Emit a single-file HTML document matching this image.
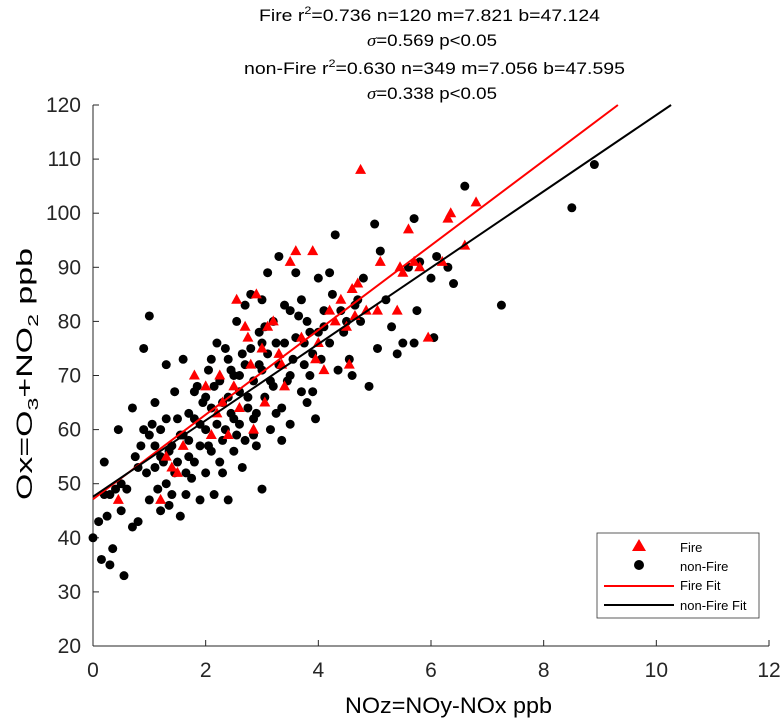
<!DOCTYPE html>
<html><head><meta charset="utf-8"><style>
body{margin:0;background:#fff;font-family:"Liberation Sans",Arial,sans-serif;}
svg text{font-family:"Liberation Sans",Arial,sans-serif;}
</style></head><body>
<svg id="chart" width="782" height="721" xmlns="http://www.w3.org/2000/svg">
<g font-size="17" fill="#000">
<text x="259" y="21" textLength="341" lengthAdjust="spacingAndGlyphs">Fire r<tspan font-size="11" dy="-7">2</tspan><tspan dy="7">=0.736 n=120  m=7.821  b=47.124</tspan></text>
<text x="367" y="46" textLength="130" lengthAdjust="spacingAndGlyphs"><tspan font-family="Liberation Serif" font-style="italic">σ</tspan>=0.569 p&lt;0.05</text>
<text x="244" y="74" textLength="381" lengthAdjust="spacingAndGlyphs">non-Fire r<tspan font-size="11" dy="-7">2</tspan><tspan dy="7">=0.630 n=349 m=7.056  b=47.595</tspan></text>
<text x="367" y="99" textLength="130" lengthAdjust="spacingAndGlyphs"><tspan font-family="Liberation Serif" font-style="italic">σ</tspan>=0.338 p&lt;0.05</text>
</g>
<g id="axes"></g>
<g id="marks"></g>
<text x="345" y="713" font-size="22" textLength="207" lengthAdjust="spacingAndGlyphs">NOz=NOy-NOx  ppb</text>
<text transform="translate(32,500) rotate(-90)" font-size="22" textLength="252" lengthAdjust="spacingAndGlyphs">Ox=O<tspan font-size="15" dy="6">3</tspan><tspan dy="-6">+NO</tspan><tspan font-size="15" dy="6">2</tspan><tspan dy="-6"> ppb</tspan></text>
<g>
<rect x="597" y="533" width="162" height="85" fill="#fff" stroke="#333" stroke-width="0.8"/>
<polygon points="639,539 646,551 632,551" fill="#f00"/>
<text x="680" y="552" font-size="13">Fire</text>
<circle cx="639" cy="565" r="5" fill="#000"/>
<text x="680" y="571" font-size="13">non-Fire</text>
<line x1="604" y1="586" x2="674" y2="586" stroke="#f00" stroke-width="2"/>
<text x="680" y="590" font-size="13">Fire Fit</text>
<line x1="604" y1="605" x2="674" y2="605" stroke="#000" stroke-width="2"/>
<text x="680" y="610" font-size="13">non-Fire Fit</text>
</g>
</svg>
<script>
const xTicks=[0,2,4,6,8,10,12];
const yTicks=[20,30,40,50,60,70,80,90,100,110,120];
const fireFit=[7.821,47.124];
const nonFireFit=[7.056,47.595];
const nonFireX=[0,0.1,0.2,0.15,0.2,0.3,0.3,0.25,0.35,0.5,0.5,0.55,0.45,0.4,0.6,0.7,0.7,0.75,0.8,0.8,0.9,0.9,0.95,1.0,1.0,1.0,1.05,1.1,1.1,1.15,1.2,1.2,1.25,1.3,1.3,1.3,1.35,1.4,1.4,1.45,1.5,1.5,1.55,1.6,1.6,1.65,1.7,1.7,1.75,1.8,1.8,1.85,1.9,1.9,1.95,2.0,2.0,2.05,2.1,2.1,2.15,2.2,2.2,2.25,2.3,2.3,2.35,2.4,2.4,2.45,2.5,2.5,2.55,2.6,2.6,2.65,2.7,2.7,2.75,2.8,2.8,2.85,2.9,2.9,2.95,3.0,3.0,3.05,3.1,3.1,3.15,3.2,3.2,3.25,3.3,3.3,3.35,3.4,3.4,3.5,3.5,3.6,3.6,3.7,3.7,3.75,3.8,3.8,3.85,3.9,3.9,3.95,4.0,4.0,4.05,4.1,4.2,4.2,4.3,4.35,4.4,4.5,4.55,4.6,4.7,4.8,4.9,5.0,5.05,5.1,5.2,5.3,5.4,5.5,5.6,5.7,5.7,5.75,5.8,6.0,6.05,6.1,6.3,6.4,6.6,7.25,8.5,8.9,1.1,1.2,1.45,1.55,1.7,1.9,2.0,2.1,2.25,2.35,2.45,2.55,2.65,2.75,2.85,2.95,3.05,3.15,3.25,3.45,3.55,3.65,3.75,3.85,4.1,4.25,4.45,4.65,4.75,2.3,2.6,1.8,1.35,0.85,2.7,3.0,2.15,2.4,3.35,2.85,1.65,2.05,2.5,3.0,3.5];
const nonFireY=[40,43,54,36,48,48,35,44,38,50,45,33,60,49,49,42,64,55,53,43,75,60,52,81,47,59,61,53,57,49,45,60,54,72,50,62,46,57,48,67,54,62,44,59,73,52,58,63,51,62,54,68,57,47,65,60,52,71,56,64,48,76,61,69,52,58,75,66,47,63,70,56,80,67,61,53,72,58,64,85,75,69,57,63,78,71,49,66,89,74,60,80,68,63,92,72,58,83,76,70,61,89,77,84,67,72,80,65,78,74,67,62,88,78,73,82,89,76,96,71,82,80,73,70,84,88,68,98,75,93,84,79,74,76,90,99,76,82,91,88,77,92,90,87,105,83,101,109,65,55,52,59,55,61,66,73,54,60,71,59,74,66,62,72,79,69,76,69,73,81,76,70,79,85,78,83,80,65,70,67,56,57,83,84,68,73,64,59,48,57,62,76,82];
const fireX=[0.45,1.3,1.2,1.4,1.5,1.8,2.0,2.1,2.2,2.3,2.4,2.5,2.55,2.6,2.7,2.75,2.8,2.85,3.0,3.05,3.1,3.3,3.35,3.4,3.5,3.6,3.7,3.9,3.95,4.0,4.1,4.2,4.3,4.5,4.55,4.6,4.65,4.7,4.75,4.85,5.05,5.1,5.4,5.45,5.5,5.6,5.7,5.8,5.95,6.2,6.3,6.35,6.6,6.8,3.2,2.9,4.4,1.6,2.25];
const fireY=[47,55,47,53,52,70,68,59,63,65,59,68,84,64,79,77,72,60,75,65,79,74,72,68,91,93,77,93,73,76,71,82,80,79,72,86,81,87,108,82,82,91,82,90,89,97,91,90,77,91,99,100,94,102,80,85,84,57,70];
const NS='http://www.w3.org/2000/svg';
const L=93,R=769,T=105,B=646;
function sx(v){return L+(v-0)/(12-0)*(R-L);}
function sy(v){return B-(v-20)/(120-20)*(B-T);}
function mk(tag,attrs,parent){const e=document.createElementNS(NS,tag);for(const k in attrs)e.setAttribute(k,attrs[k]);parent.appendChild(e);return e;}
const ax=document.getElementById('axes'),mg=document.getElementById('marks');
let e=mk('line',{x1:L,y1:B,x2:R,y2:B,stroke:'#262626','stroke-width':1},ax);


e=mk('line',{x1:L,y1:B,x2:L,y2:T,stroke:'#262626','stroke-width':1},ax);


xTicks.forEach(v=>{mk('line',{x1:sx(v),y1:B,x2:sx(v),y2:B-6,stroke:'#262626'},ax);
 const t=mk('text',{x:sx(v),y:B+31,'font-size':21,'text-anchor':'middle',fill:'#262626'},ax);t.textContent=v;
 
 });
yTicks.forEach(v=>{mk('line',{x1:L,y1:sy(v),x2:L+6,y2:sy(v),stroke:'#262626'},ax);
 const t=mk('text',{x:L-12,y:sy(v)+7,'font-size':21,'text-anchor':'end',fill:'#262626'},ax);t.textContent=v;
 
 });
nonFireX.forEach((x,i)=>{const c=mk('circle',{cx:sx(x),cy:sy(nonFireY[i]),r:4.5,fill:'#000'},mg);
 
 });
fireX.forEach((x,i)=>{const px=sx(x),py=sy(fireY[i]);
 const p=mk('polygon',{points:`${px},${py-6} ${px+5.5},${py+4} ${px-5.5},${py+4}`,fill:'#f00'},mg);
 
 });
function fit(f,col,name){const x2=(120-f[1])/f[0];
 const l=mk('line',{x1:sx(0),y1:sy(f[1]),x2:sx(x2),y2:sy(120),stroke:col,'stroke-width':2},mg);
 
 }
fit(fireFit,'#f00','fire-fit-line');
fit(nonFireFit,'#000','non-fire-fit-line');
</script>
</body></html>
